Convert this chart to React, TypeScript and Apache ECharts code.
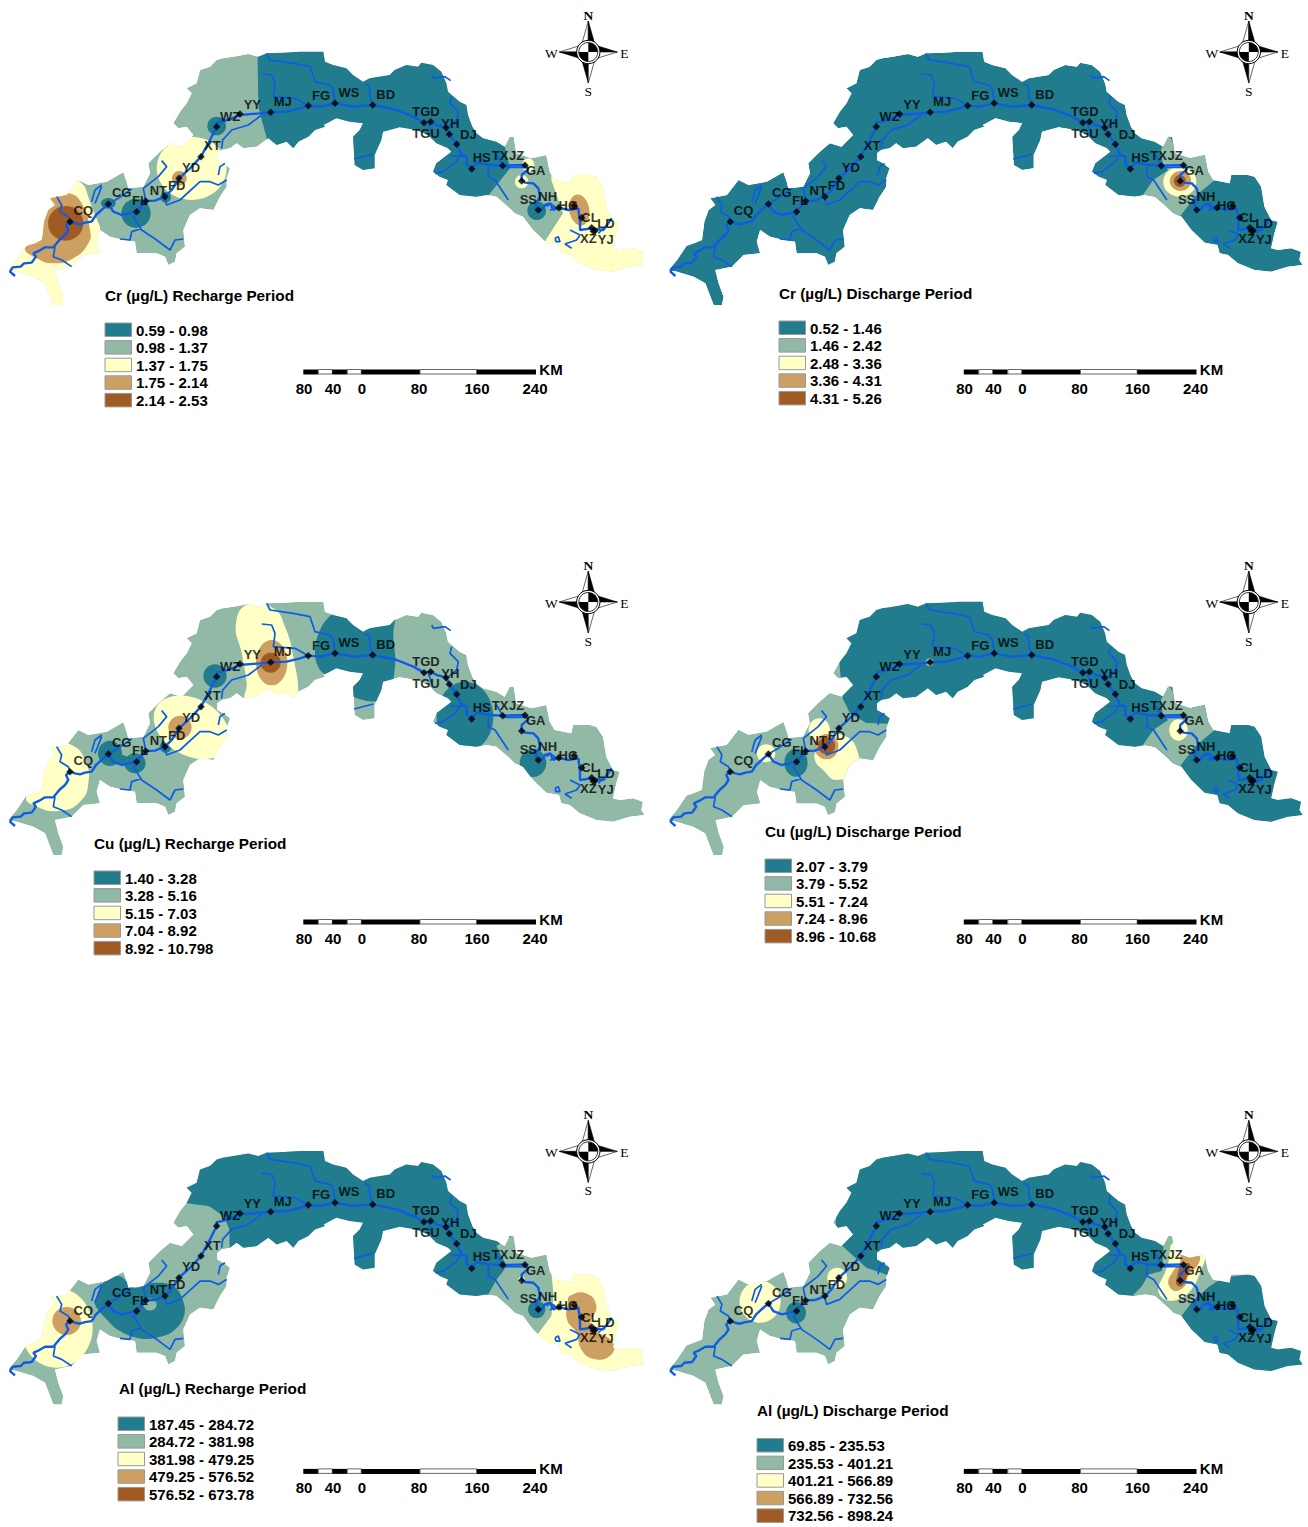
import React, { useEffect, useRef } from "react";
import * as echarts from "echarts";

type Pt = [number, number];

// ---------- map geometry, in map units (3 units = 1 px) ----------
const E_SHIFT = 959;
const east = (pts: Pt[]): Pt[] => pts.map(([x, y]) => [x + E_SHIFT, y] as Pt);

const OUTLINE_NORTH: Pt[] = [[650,60],[668,55],[700,50],[745,42],[775,50],[800,40],[850,38],[900,35],[970,35],[975,65]];
const OUTLINE_EAST: Pt[] = [[40,75],[80,85],[100,105],[130,125],[150,115],[210,105],[225,90],[260,75],[295,80],[305,68],[340,75],[365,95],[380,130],[385,155],[420,185],[440,195],[445,225],[458,260],[470,280],[490,295],[530,305],[555,320],[570,290],[582,290],[590,340],[635,355],[680,345],[690,395],[705,420],[755,430],[760,405],[810,405],[830,410],[850,440],[860,500],[880,540],[900,545],[890,580],[880,625],[900,630],[940,625],[970,635],[965,660],[975,675],[930,680],[880,695],[830,690],[780,670],[750,645],[725,640],[718,615],[680,608],[640,570],[610,530],[585,520],[570,505],[530,470],[500,465],[470,470],[420,465],[380,435],[385,420],[360,410],[340,395],[350,370],[395,335],[385,325],[350,310],[325,285],[290,270],[240,262],[190,275],[185,300],[165,345],[165,385],[130,390],[105,375],[100,290],[120,270],[130,250],[90,245],[50,235],[12,255]];
const OUTLINE_SOUTH: Pt[] = [[975,260],[945,270],[925,290],[895,305],[880,325],[860,305],[830,315],[805,295],[770,320],[730,325],[710,310],[690,325],[665,330],[652,340],[652,360],[670,370],[690,385],[680,415],[680,440],[660,470],[640,510],[600,505],[570,525],[550,570],[555,620],[530,640],[525,665],[505,675],[495,650],[470,640],[410,640],[405,605],[370,600],[330,590],[300,570],[290,605],[300,640],[250,645],[215,680],[165,690],[175,730],[190,770],[185,795],[160,795],[135,730],[100,710],[50,695],[25,690],[50,660],[78,618],[105,608],[125,600],[132,545],[145,510],[165,495],[150,475],[200,465],[235,420],[265,435],[320,425],[370,397],[380,425],[385,445],[430,440],[450,400],[445,370],[480,335],[510,310],[545,320],[580,285],[560,260],[535,265],[520,250],[540,215],[560,190],[575,160],[560,145],[590,130],[600,90],[630,80]];
const OUTLINE: Pt[] = [...OUTLINE_NORTH, ...east(OUTLINE_EAST), ...OUTLINE_SOUTH];

const RIVER_MAIN: Pt[][] = [
  [[45,708],[30,695],[38,682],[62,680],[72,670],[95,668],[108,650],[100,640],[118,632],[135,622],[160,622],[178,600],[195,585],[205,570],[198,555],[210,545],[225,550],[240,553],[255,548],[275,545],[288,525],[310,505],[325,492],[340,515],[365,525],[410,515],[437,483],[465,482],[495,470],[515,450],[537,415],[570,385],[603,350],[630,300],[650,260],[650,248],[665,245],[690,238],[720,225],[780,220],[812,217],[860,215],[900,205],[925,197],[960,200],[1005,190],[1060,200],[1118,195],[1190,210],[1240,230],[1272,248],[1292,245],[1310,255],[1338,262],[1348,283],[1370,313],[1385,345],[1400,350],[1400,375],[1415,385],[1430,368],[1470,375],[1508,377],[1575,375],[1585,388],[1565,405],[1565,420],[1575,428],[1600,430],[1615,445],[1620,470],[1608,490],[1610,510],[1625,510],[1635,495],[1650,490],[1660,510],[1676,503],[1705,510],[1735,505],[1740,545],[1740,570],[1775,565],[1810,570],[1835,535]],
];
const RIVER_TRIBS: Pt[][] = [
  [[325,492],[355,475],[395,447]],
  [[275,485],[285,450],[305,435]],
  [[285,490],[305,440]],
  [[410,515],[400,530],[425,570],[470,600],[510,630],[525,600],[550,597]],
  [[425,565],[395,575],[390,600],[360,597]],
  [[437,480],[430,445],[475,410],[500,380],[485,362]],
  [[495,475],[500,495],[540,480],[600,425],[630,425],[655,435],[680,420]],
  [[655,405],[660,380],[675,370]],
  [[170,470],[185,495],[180,515],[205,530],[210,545]],
  [[165,620],[160,650],[185,660],[215,680]],
  [[665,325],[668,300],[695,270],[745,255],[785,225]],
  [[785,102],[815,105],[825,130],[820,170],[885,175],[925,197]],
  [[800,40],[810,60],[880,70],[930,80],[945,125],[990,135],[1000,150],[1005,190]],
  [[1095,130],[1108,140],[1110,170],[1118,195]],
  [[1295,105],[1300,115],[1335,110],[1352,122]],
  [[1355,170],[1350,190],[1375,215],[1370,240],[1340,265]],
  [[1062,357],[1120,342]],
  [[1305,400],[1330,395],[1370,365],[1380,347]],
  [[1350,348],[1385,348]],
  [[1465,380],[1465,410],[1485,420],[1525,480]],
  [[1285,250],[1295,280]],
  [[1710,570],[1740,585],[1730,600],[1695,612],[1715,625]],
  [[1665,595],[1675,590],[1680,605],[1668,605],[1665,595]],
  [[1795,580],[1810,565]],
  [[1510,382],[1575,382]],
  [[1490,345],[1508,377]],
  [[1640,500],[1650,490],[1665,500],[1650,512]],
];

const STATION_NAMES = ["CQ","CG","FL","NT","FD","YD","XT","WZ","YY","MJ","FG","WS","BD","TGD","TGU","YH","","DJ","HS","TX","JZ","GA","SS","NH","HG","CL","LD","XZ","YJ"];
const STATION_POINTS: Pt[] = [[210,545],[325,492],[410,515],[437,483],[495,470],[537,415],[603,350],[650,260],[720,222],[812,217],[925,197],[1005,190],[1118,195],[1292,245],[1272,248],[1338,263],[1348,283],[1370,313],[1415,387],[1508,377],[1575,376],[1565,423],[1615,510],[1676,503],[1722,497],[1745,533],[1775,563],[1780,574],[1785,572]];
const STATION_LABEL_POINTS: Pt[] = [[250,512],[365,458],[420,482],[475,450],[530,436],[573,382],[637,317],[690,228],[757,192],[848,185],[963,165],[1047,157],[1157,162],[1278,213],[1278,280],[1351,250],[1348,283],[1405,282],[1445,352],[1500,345],[1550,345],[1607,392],[1585,478],[1643,470],[1705,497],[1770,533],[1818,550],[1765,595],[1817,597]];

// ---------- classified zones per panel ----------
type Zone = { level: number; ell?: [number, number, number, number, number?]; pts?: Pt[]; smooth?: number };
const E = (level: number, cx: number, cy: number, rx: number, ry: number, rot = 0): Zone => ({ level, ell: [cx, cy, rx, ry, rot] });
const P = (level: number, pts: Pt[], smooth = 0): Zone => ({ level, pts, smooth });

const BASE_LEVELS = [1, 0, 1, 1, 1, 1];

const ZONES_CR_RECHARGE: Zone[] = [
  P(2, [[0,400],[230,415],[255,440],[275,500],[300,560],[305,640],[290,820],[0,820]]),
  P(3, [[150,470],[205,460],[245,490],[270,570],[265,610],[220,655],[160,670],[110,655],[75,625],[120,600],[130,560],[130,510]], 0.5),
  E(4, 197, 550, 53, 52),
  P(0, [[772,0],[1510,0],[1512,310],[1530,385],[1462,470],[1430,540],[830,540],[800,295],[775,200]]),
  E(2, 575, 385, 105, 95),
  E(3, 538, 415, 22, 22),
  E(0, 408, 520, 44, 44),
  E(0, 497, 472, 16, 16),
  E(0, 325, 490, 22, 16),
  E(0, 650, 258, 28, 28),
  P(2, east([[695,400],[900,380],[1000,600],[1000,720],[640,720],[675,605],[730,520],[695,420]])),
  E(3, 1738, 510, 30, 47, 10),
  E(4, 1722, 497, 10, 10),
  E(2, 1565, 425, 20, 20),
  E(2, 1585, 375, 18, 20),
  E(0, 1610, 512, 28, 28),
];
const ZONES_CR_DISCHARGE: Zone[] = [
  P(1, east([[548,330],[570,280],[600,340],[700,340],[710,420],[650,470],[605,530],[585,530],[490,470],[525,420],[570,390],[553,370]])),
  E(2, 1564, 425, 50, 45),
  E(3, 1566, 423, 32, 30),
  E(4, 1564, 423, 18, 18),
];
const ZONES_CU_RECHARGE: Zone[] = [
  P(2, [[165,465],[215,465],[255,510],[265,580],[240,635],[180,662],[110,650],[78,622],[120,590],[135,510]], 0.5),
  E(0, 330, 490, 36, 38),
  E(0, 405, 520, 32, 30),
  E(0, 365, 510, 20, 15),
  E(0, 497, 470, 18, 18),
  E(0, 645, 258, 35, 35),
  E(2, 575, 412, 122, 85, -30),
  E(3, 540, 412, 35, 35),
  P(2, [[745,42],[820,55],[855,110],[880,200],[895,320],[880,330],[740,330],[740,280],[725,190],[708,100]], 0.5),
  E(3, 815, 218, 47, 68),
  E(4, 812, 218, 30, 30),
  P(0, [[1000,70],[1090,20],[1190,20],[1180,130],[1185,230],[1155,325],[1060,320],[990,260],[960,240],[945,190],[960,120]], 0.4),
  E(0, 1395, 380, 85, 105),
  E(0, 1599, 519, 40, 42),
];
const ZONES_CU_DISCHARGE: Zone[] = [
  P(0, [[520,0],[1940,0],[1940,800],[720,800],[700,402],[620,400],[570,370],[548,325]]),
  P(1, [[0,300],[548,300],[548,325],[570,370],[620,400],[700,402],[700,820],[0,820]]),
  P(1, east([[548,330],[570,280],[600,340],[700,340],[710,420],[650,470],[605,530],[585,530],[490,470],[525,420],[570,390],[553,370]])),
  E(2, 1560, 420, 28, 32),
  E(2, 318, 490, 28, 27),
  E(0, 408, 518, 35, 42),
  P(2, [[470,480],[500,440],[560,440],[595,490],[590,540],[530,570],[490,540],[465,510]], 0.5),
  E(2, 478, 420, 32, 35),
  E(3, 500, 470, 36, 38),
  E(4, 500, 467, 26, 25),
  E(1, 810, 217, 12, 12),
];
const ZONES_AL_RECHARGE: Zone[] = [
  P(0, [[560,0],[1540,0],[1540,285],[1490,320],[1520,380],[1490,420],[1465,465],[1430,540],[800,540],[690,340],[688,270],[670,230],[625,200],[555,190]], 0.05),
  P(0, [[290,470],[310,430],[355,410],[385,430],[400,445],[430,440],[465,430],[520,440],[548,480],[552,530],[520,575],[470,595],[420,597],[360,575],[320,540],[285,495]], 0.4),
  E(1, 450, 495, 20, 18),
  E(2, 170, 565, 108, 120),
  E(3, 200, 545, 43, 42),
  P(2, east([[695,400],[900,380],[1000,600],[1000,720],[620,720],[650,590],[695,530],[702,470]])),
  P(3, east([[750,470],[800,462],[830,500],[815,560],[880,610],[870,650],[820,658],[785,630],[770,580],[742,540],[745,490]]), 0.5),
  E(0, 1610, 510, 26, 26),
  E(2, 1565, 421, 10, 10),
];
const ZONES_AL_DISCHARGE: Zone[] = [
  P(0, [[520,0],[1500,0],[1515,330],[1510,395],[1470,405],[1450,440],[1425,465],[1420,600],[850,600],[700,412],[620,385],[548,320],[530,300]]),
  P(0, east([[610,530],[640,490],[695,440],[735,415],[1000,380],[1000,720],[600,720]])),
  E(2, 300, 487, 62, 63),
  E(2, 532, 415, 30, 30),
  E(0, 408, 520, 30, 32),
  P(2, east([[585,310],[640,340],[680,345],[670,390],[640,450],[600,480],[560,480],[540,450],[560,400],[570,370]]), 0.4),
  P(3, east([[610,330],[640,345],[665,350],[660,375],[630,410],[620,440],[590,455],[570,430],[585,395],[605,370]]), 0.4),
  P(4, east([[610,375],[635,375],[625,415],[610,440],[595,435],[597,410]]), 0.4),
];
const PANEL_ZONES = [ZONES_CR_RECHARGE, ZONES_CR_DISCHARGE, ZONES_CU_RECHARGE, ZONES_CU_DISCHARGE, ZONES_AL_RECHARGE, ZONES_AL_DISCHARGE];

// ---------- texts ----------
const PANEL_TITLES = ["Cr (µg/L) Recharge Period","Cr (µg/L) Discharge Period","Cu (µg/L) Recharge Period","Cu (µg/L) Discharge Period","Al (µg/L) Recharge Period","Al (µg/L) Discharge Period"];
const LEGEND_CR_RECHARGE = ["0.59 - 0.98","0.98 - 1.37","1.37 - 1.75","1.75 - 2.14","2.14 - 2.53"];
const LEGEND_CR_DISCHARGE = ["0.52 - 1.46","1.46 - 2.42","2.48 - 3.36","3.36 - 4.31","4.31 - 5.26"];
const LEGEND_CU_RECHARGE = ["1.40 - 3.28","3.28 - 5.16","5.15 - 7.03","7.04 - 8.92","8.92 - 10.798"];
const LEGEND_CU_DISCHARGE = ["2.07 - 3.79","3.79 - 5.52","5.51 - 7.24","7.24 - 8.96","8.96 - 10.68"];
const LEGEND_AL_RECHARGE = ["187.45 - 284.72","284.72 - 381.98","381.98 - 479.25","479.25 - 576.52","576.52 - 673.78"];
const LEGEND_AL_DISCHARGE = ["69.85 - 235.53","235.53 - 401.21","401.21 - 566.89","566.89 - 732.56","732.56 - 898.24"];
const PANEL_LEGENDS = [LEGEND_CR_RECHARGE, LEGEND_CR_DISCHARGE, LEGEND_CU_RECHARGE, LEGEND_CU_DISCHARGE, LEGEND_AL_RECHARGE, LEGEND_AL_DISCHARGE];
const SCALE_LABELS = ["80","40","0","80","160","240"];

// ---------- styling and layout ----------
const LEVEL_COLORS = ["#217d8e", "#90b9a6", "#ffffc6", "#cc9f63", "#a05a24"];
const RIVER_COLOR = "#0d5ce6";
const SANS = '"Liberation Sans", Arial, sans-serif';
const SERIF = '"Liberation Serif", serif';
const PANEL_X = [0, 660.5, 0, 660.5, 0, 660.5];
const PANEL_Y = [0, 0, 550, 550, 1099.4, 1099.4];
const TITLE_POS: Pt[] = [[105,295],[779,293],[94,843],[765,831],[119,1388],[757,1410]];
const LEGEND_POS: Pt[] = [[105,330],[779,328],[94,878],[765,866],[118,1424],[757,1445.5]];
const UNITS_PER_PX = 3;
const MAP_W = 1950, MAP_H = 810;

function compass(i: number) {
  const spike = (pts: number[][], fill: string) => ({ type: "polygon", shape: { points: pts }, style: { fill, stroke: "#000", lineWidth: 0.6 } });
  const letter = (t: string, x: number, y: number, w = "normal") => ({
    type: "text", x, y, style: { text: t, font: `${w} 13.5px ${SERIF}`, fill: "#000", align: "center", verticalAlign: "middle" },
  });
  const quad = (a: number, fill: string) => ({
    type: "sector", shape: { cx: 0, cy: 0, r: 9.5, r0: 0, startAngle: a, endAngle: a + Math.PI / 2 }, style: { fill },
  });
  return {
    type: "group", x: 588.3 + PANEL_X[i], y: 52 + PANEL_Y[i],
    children: [
      spike([[0,-31],[-6.5,-8],[0,-8]], "#fff"), spike([[0,-31],[6.5,-8],[0,-8]], "#000"),
      spike([[0,31],[-6.5,8],[0,8]], "#000"), spike([[0,31],[6.5,8],[0,8]], "#fff"),
      spike([[-29,0],[-8,-6.5],[-8,0]], "#fff"), spike([[-29,0],[-8,6.5],[-8,0]], "#000"),
      spike([[29,0],[8,-6.5],[8,0]], "#000"), spike([[29,0],[8,6.5],[8,0]], "#fff"),
      { type: "circle", shape: { cx: 0, cy: 0, r: 11.7 }, style: { fill: "#fff", stroke: "#000", lineWidth: 1 } },
      quad(0, "#fff"), quad(Math.PI / 2, "#000"), quad(Math.PI, "#fff"), quad(Math.PI * 1.5, "#000"),
      { type: "circle", shape: { cx: 0, cy: 0, r: 9.5 }, style: { fill: "none", stroke: "#000", lineWidth: 0.8 } },
      letter("N", 0, -37, "bold"), letter("S", 0, 39), letter("W", -37, 1), letter("E", 36, 1),
    ],
  };
}

function scaleBar(i: number) {
  const ox = PANEL_X[i], oy = PANEL_Y[i];
  const segs: [number, number, number][] = [[303.3,318.3,1],[318.3,332.3,0],[332.3,347.3,1],[347.3,361.3,0],[361.3,420,1],[420,476.7,0],[476.7,536,1]];
  const bars = segs.map(([a, b, dark]) => ({
    type: "rect", shape: { x: ox + a, y: oy + 369.5, width: b - a, height: dark ? 5 : 4.5 },
    style: { fill: dark ? "#000" : "#fff", stroke: dark ? "#000" : "#666", lineWidth: dark ? 0 : 1 },
  }));
  const centers = [304, 333, 362, 419, 477, 535];
  const labels = SCALE_LABELS.map((t, k) => ({
    type: "text", x: ox + centers[k], y: oy + 388,
    style: { text: t, font: `bold 15px ${SANS}`, fill: "#000", align: "center", verticalAlign: "middle" },
  }));
  return [
    ...bars, ...labels,
    { type: "text", x: ox + 551, y: oy + 369, style: { text: "KM", font: `bold 15px ${SANS}`, fill: "#000", align: "center", verticalAlign: "middle" } },
  ];
}

function legend(i: number) {
  const [lx, ly] = LEGEND_POS[i];
  const [tx, ty] = TITLE_POS[i];
  const out: any[] = [{
    type: "text", x: tx, y: ty,
    style: { text: PANEL_TITLES[i], font: `bold 15.3px ${SANS}`, fill: "#000", align: "left", verticalAlign: "middle" },
  }];
  PANEL_LEGENDS[i].forEach((t, k) => {
    const y = ly + k * 17.6;
    out.push({ type: "rect", shape: { x: lx, y: y - 7, width: 26.5, height: 13.5 }, style: { fill: LEVEL_COLORS[k], stroke: "#999", lineWidth: 1 } });
    out.push({ type: "text", x: lx + 31, y, style: { text: t, font: `bold 15px ${SANS}`, fill: "#000", align: "left", verticalAlign: "middle" } });
  });
  return out;
}

function joinLines(lines: Pt[][]) {
  const out: any[] = [];
  lines.forEach((l, k) => {
    if (k) out.push(["-", "-"]);
    l.forEach((p) => out.push(p));
  });
  return out;
}

function buildOption() {
  const grid: any[] = [], xAxis: any[] = [], yAxis: any[] = [], series: any[] = [], graphic: any[] = [];
  PANEL_ZONES.forEach((zones, i) => {
    grid.push({ left: PANEL_X[i], top: PANEL_Y[i] + 40, width: MAP_W / UNITS_PER_PX, height: MAP_H / UNITS_PER_PX, containLabel: false });
    xAxis.push({ type: "value", gridIndex: i, min: 0, max: MAP_W, show: false });
    yAxis.push({ type: "value", gridIndex: i, min: 0, max: MAP_H, inverse: true, show: false });
    series.push({
      type: "custom", xAxisIndex: i, yAxisIndex: i, clip: false, silent: true, z: 1, data: [[0, 0]],
      renderItem: (_p: any, api: any) => {
        const toPx = (pts: Pt[]) => pts.map((p) => api.coord(p));
        const outline = toPx(OUTLINE);
        const children: any[] = [{ type: "polygon", shape: { points: outline }, style: { fill: LEVEL_COLORS[BASE_LEVELS[i]] } }];
        zones.forEach((z) => {
          const fill = LEVEL_COLORS[z.level];
          if (z.ell) {
            const [cx, cy, rx, ry, rot] = z.ell;
            const c = api.coord([cx, cy]);
            const s = api.size([rx, ry]);
            children.push({
              type: "ellipse", x: c[0], y: c[1], rotation: ((rot || 0) * Math.PI) / 180,
              shape: { cx: 0, cy: 0, rx: s[0], ry: s[1] }, style: { fill },
            });
          } else if (z.pts) {
            children.push({ type: "polygon", shape: { points: toPx(z.pts), smooth: z.smooth || 0 }, style: { fill } });
          }
        });
        return { type: "group", clipPath: { type: "polygon", shape: { points: outline } }, children };
      },
    });
    series.push({
      type: "line", xAxisIndex: i, yAxisIndex: i, z: 2, silent: true, showSymbol: false, symbol: "none", clip: false, connectNulls: false,
      data: joinLines(RIVER_TRIBS), lineStyle: { color: RIVER_COLOR, width: 1.7 },
    });
    series.push({
      type: "line", xAxisIndex: i, yAxisIndex: i, z: 2, silent: true, showSymbol: false, symbol: "none", clip: false,
      data: joinLines(RIVER_MAIN), lineStyle: { color: RIVER_COLOR, width: 2.4 },
    });
    series.push({
      type: "scatter", xAxisIndex: i, yAxisIndex: i, z: 3, silent: true, clip: false, symbol: "diamond", symbolSize: 7.5,
      itemStyle: { color: "#000" },
      data: STATION_POINTS.map((p, k) => ({
        value: p,
        label: {
          show: !!STATION_NAMES[k], position: "inside", formatter: STATION_NAMES[k],
          offset: [(STATION_LABEL_POINTS[k][0] - p[0]) / UNITS_PER_PX, (STATION_LABEL_POINTS[k][1] - p[1]) / UNITS_PER_PX],
          color: "#000", fontFamily: SANS, fontSize: 13, fontWeight: "bold",
        },
      })),
    });
    graphic.push(compass(i), ...scaleBar(i), ...legend(i));
  });
  return { animation: false, backgroundColor: "#fff", grid, xAxis, yAxis, series, graphic: { elements: graphic } };
}

export default function App() {
  const ref = useRef<HTMLDivElement>(null);
  useEffect(() => {
    const chart = echarts.init(ref.current!, undefined, { renderer: "svg" });
    chart.setOption(buildOption());
    return () => chart.dispose();
  }, []);
  return <div ref={ref} style={{ position: "absolute", left: 0, top: 0, width: 1308, height: 1527 }} />;
}
